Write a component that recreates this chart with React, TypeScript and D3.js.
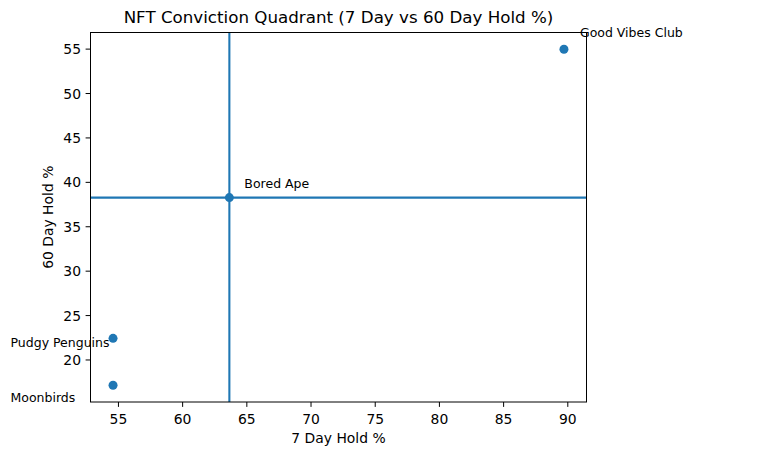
import React from "react";
import * as d3 from "d3";

const names = ["Good Vibes Club", "Bored Ape", "Pudgy Penguins", "Moonbirds"];
const hold7 = [89.7, 63.64, 54.58, 54.58];
const hold60 = [54.98, 38.28, 22.44, 17.16];
const xTicks = [55, 60, 65, 70, 75, 80, 85, 90];
const yTicks = [20, 25, 30, 35, 40, 45, 50, 55];
const refX = 63.64;
const refY = 38.28;

// label offsets in pixels (style)
const labelDx = [16, 15, -102.5, -102.5];
const labelDy = [-12, -9.5, 8.5, 17];

const W = 768, H = 464;
const L = 90.5, R = 586.5, T = 32.5, B = 402;
const blue = "#1f77b4";
const font = "DejaVu Sans, sans-serif";
const tickFs = 13.9;

export default function App() {
  const xMin = d3.min(hold7)!, xMax = d3.max(hold7)!;
  const yMin = d3.min(hold60)!, yMax = d3.max(hold60)!;
  const xPad = (xMax - xMin) * 0.05, yPad = (yMax - yMin) * 0.05;
  const x = d3.scaleLinear().domain([xMin - xPad, xMax + xPad]).range([L, R]);
  const y = d3.scaleLinear().domain([yMin - yPad, yMax + yPad]).range([B, T]);
  return (
    <svg width={W} height={H} style={{ position: "absolute", left: 0, top: 0, background: "#fff" }} fontFamily={font}>
      <rect x={0} y={0} width={W} height={H} fill="#fff" />
      <text x={(L + R) / 2} y={22.5} textAnchor="middle" fontSize={16.7}>NFT Conviction Quadrant (7 Day vs 60 Day Hold %)</text>
      <line x1={x(refX)} x2={x(refX)} y1={T} y2={B} stroke={blue} strokeWidth={2.08} />
      <line x1={L} x2={R} y1={y(refY)} y2={y(refY)} stroke={blue} strokeWidth={2.08} />
      {names.map((n, i) => (
        <g key={n}>
          <circle cx={x(hold7[i])} cy={y(hold60[i])} r={4.5} fill={blue} />
          <text x={x(hold7[i]) + labelDx[i]} y={y(hold60[i]) + labelDy[i]} fontSize={12.5} fill="#000">{n}</text>
        </g>
      ))}
      <rect x={L} y={T} width={R - L} height={B - T} fill="none" stroke="#000" strokeWidth={1} />
      {xTicks.map((t) => (
        <g key={t}>
          <line x1={x(t)} x2={x(t)} y1={B} y2={B + 4.9} stroke="#000" />
          <text x={x(t)} y={B + 21.5} textAnchor="middle" fontSize={tickFs}>{t}</text>
        </g>
      ))}
      {yTicks.map((t) => (
        <g key={t}>
          <line x1={L - 4.9} x2={L} y1={y(t)} y2={y(t)} stroke="#000" />
          <text x={L - 9.5} y={y(t) + 5} textAnchor="end" fontSize={tickFs}>{t}</text>
        </g>
      ))}
      <text x={(L + R) / 2} y={442.5} textAnchor="middle" fontSize={tickFs}>7 Day Hold %</text>
      <text transform={`translate(53,${(T + B) / 2}) rotate(-90)`} textAnchor="middle" fontSize={tickFs}>60 Day Hold %</text>
    </svg>
  );
}
